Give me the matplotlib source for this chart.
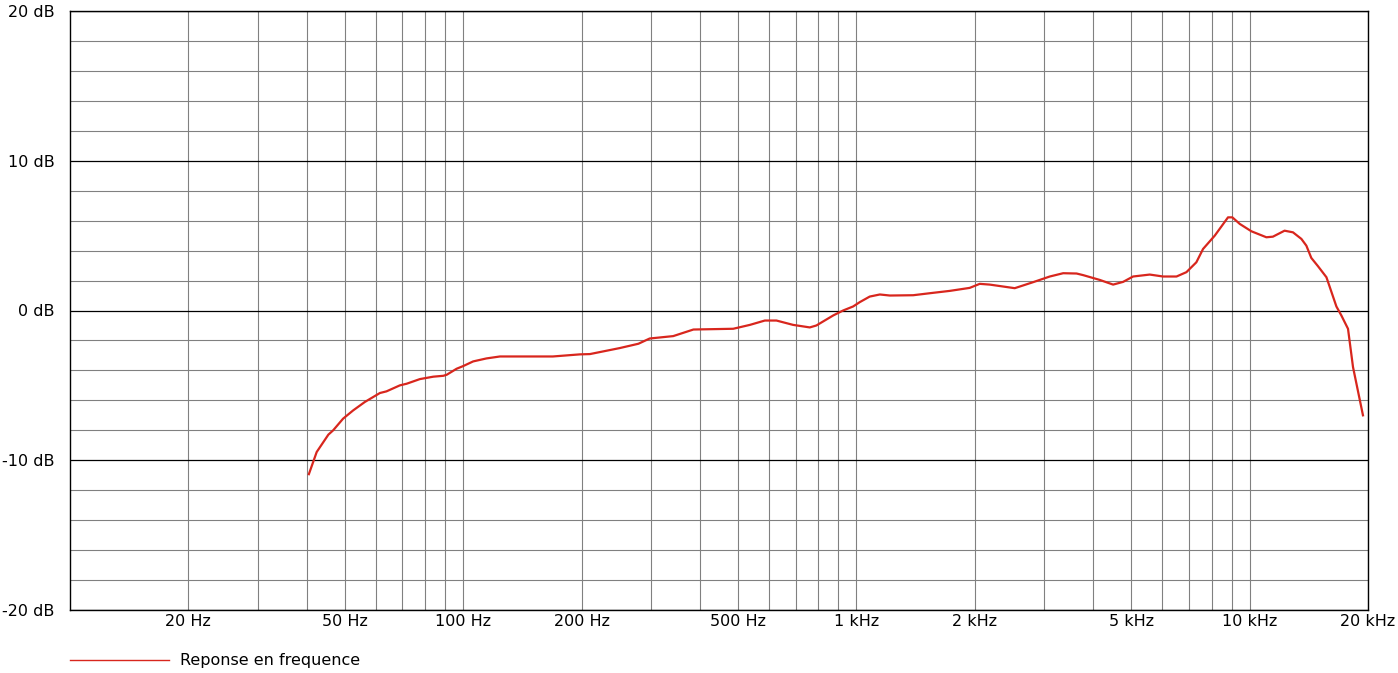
import numpy as np
import matplotlib
matplotlib.use("Agg")
import matplotlib.pyplot as plt
from matplotlib.lines import Line2D

# frequency response (Hz, dB)
freq_hz = [40.5, 42.4, 45.4, 46.7, 49.5, 52.5, 56.2, 61.4, 63.8, 69, 71.8, 77.6,
           83.9, 89, 90.8, 96.2, 100, 106, 114.6, 124, 169, 198, 210, 250, 279,
           298, 342, 385, 486, 536, 585, 626, 690, 761, 791, 873, 925, 981,
           1020, 1081, 1147, 1216, 1394, 1567, 1728, 1941, 2059, 2183, 2527,
           2813, 3103, 3356, 3630, 3775, 4160, 4496, 4766, 5053, 5571, 6025,
           6517, 6906, 7320, 7613, 8153, 8811, 9038, 9440, 10103, 11030, 11460,
           12270, 12890, 13540, 13940, 14350, 14920, 15680, 16620, 17110, 17790,
           18320, 19420]
level_db = [-10.93, -9.45, -8.29, -8.0, -7.22, -6.67, -6.11, -5.51, -5.4, -5.0,
            -4.89, -4.58, -4.42, -4.36, -4.29, -3.89, -3.71, -3.4, -3.2, -3.07,
            -3.07, -2.93, -2.91, -2.51, -2.22, -1.87, -1.71, -1.27, -1.22, -0.96,
            -0.67, -0.67, -0.96, -1.13, -1.0, -0.33, 0.0, 0.27, 0.56, 0.93, 1.07,
            1.0, 1.02, 1.18, 1.31, 1.51, 1.78, 1.73, 1.49, 1.89, 2.27, 2.49, 2.47,
            2.36, 2.04, 1.73, 1.91, 2.27, 2.4, 2.27, 2.27, 2.56, 3.22, 4.11, 5.0,
            6.22, 6.22, 5.78, 5.29, 4.89, 4.93, 5.33, 5.22, 4.78, 4.33, 3.51, 2.96,
            2.22, 0.27, -0.33, -1.22, -3.78, -7.0]

x_major = [20, 50, 100, 200, 500, 1000, 2000, 5000, 10000, 20000]
x_labels = ["20 Hz", "50 Hz", "100 Hz", "200 Hz", "500 Hz", "1 kHz", "2 kHz",
            "5 kHz", "10 kHz", "20 kHz"]
y_major = [-20, -10, 0, 10, 20]
y_labels = ["-20 dB", "-10 dB", "0 dB", "10 dB", "20 dB"]

plt.rcParams['font.family'] = ['DejaVu Sans']

fig = plt.figure(figsize=(13.98, 6.73), dpi=100)
ax = fig.add_axes([70 / 1398, 63 / 673, 1298 / 1398, 599 / 673])

ax.plot(freq_hz, level_db, color='#d8261d', lw=1.6, zorder=3)

ax.set_xscale('log')
ax.set_xlim(10, 20000)
ax.set_ylim(-20, 20)

# vertical grid: every 1..9 multiple, all grey
all_x = [m * 10 ** d for d in range(1, 5) for m in range(1, 10)]
minor_x = [v for v in all_x if 10 < v < 20000 and v not in x_major]
ax.set_xticks(x_major)
ax.set_xticklabels(x_labels)
ax.set_xticks(minor_x, minor=True)
ax.xaxis.set_minor_formatter(plt.NullFormatter())

ax.set_yticks(y_major)
ax.set_yticklabels(y_labels)
ax.set_yticks(np.arange(-20, 21, 2), minor=True)

ax.grid(which='both', axis='x', color='#808080', lw=0.8)
ax.grid(which='minor', axis='y', color='#808080', lw=0.8)
ax.grid(which='major', axis='y', color='black', lw=0.9)
ax.set_axisbelow(True)

ax.tick_params(which='both', length=0)
ax.tick_params(axis='y', pad=11, labelsize=11.5)
ax.tick_params(axis='x', pad=3, labelsize=11.5)

for s in ax.spines.values():
    s.set_color('black')
    s.set_linewidth(1.0)

handle = Line2D([], [], color='#d8261d', lw=1.0)
ax.legend([handle], ["Reponse en frequence"], loc='upper left',
          bbox_to_anchor=(0, -0.072), frameon=False, fontsize=11.5,
          handlelength=6.2, handletextpad=0.7, borderpad=0, borderaxespad=0)

fig.savefig('out.png', dpi=100)
